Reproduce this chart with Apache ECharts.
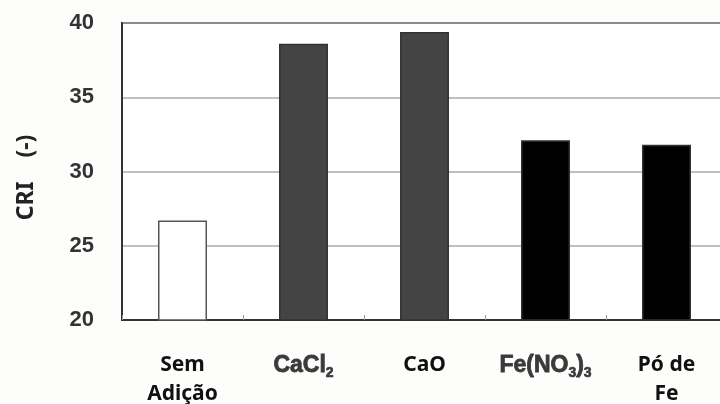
<!DOCTYPE html>
<html><head><meta charset="utf-8">
<script src="https://cdn.jsdelivr.net/npm/echarts@6/dist/echarts.min.js"></script>
<style>html,body{margin:0;padding:0;background:#fdfdfb}#c{width:720px;height:404px}</style>
</head><body><div id="c"></div>
<script>
const categories = ['Sem\nAdição', 'CaCl2', 'CaO', 'Fe(NO3)3', 'Pó de\nFe'];
const cri = [26.7, 38.6, 39.4, 32.1, 31.8];
const yTicks = [20, 25, 30, 35, 40];

const barColors = ['#ffffff', '#444444', '#444444', '#000000', '#000000'];
const labelRich = {
  '0': 'Sem\nAdição',
  '1': '{m|CaCl}{s|2}',
  '2': 'CaO',
  '3': '{m|Fe(NO}{s|3}{m|)}{s|3}',
  '4': 'Pó de\nFe'
};

const chart = echarts.init(document.getElementById('c'));
chart.setOption({
  backgroundColor: '#fdfdfb',
  animation: false,
  grid: { left: 122, right: -7, top: 23, bottom: 84, show: true, backgroundColor: '#ffffff', borderColor: '#333', borderWidth: 2, containLabel: false, outerBoundsMode: 'none' },
  xAxis: {
    type: 'category',
    data: categories,
    axisLine: { show: true, lineStyle: { color: '#333', width: 2 } },
    axisTick: { show: true, inside: true, length: 5, lineStyle: { color: '#999', width: 1 } },
    axisLabel: {
      margin: 31,
      interval: 0,
      color: '#111',
      fontFamily: 'Noto Sans',
      fontWeight: 'bold',
      fontSize: 21,
      lineHeight: 29,
      formatter: (v, i) => labelRich[i],
      rich: {
        m: { fontFamily: 'Liberation Sans', fontWeight: 700, fontSize: 23, color: '#3a3a3a', lineHeight: 29, textBorderColor: '#3a3a3a', textBorderWidth: 0.8 },
        s: { fontFamily: 'Liberation Sans', fontWeight: 700, fontSize: 14, color: '#3a3a3a', lineHeight: 29, verticalAlign: 'bottom', padding: [7, 0, 0, 0], textBorderColor: '#3a3a3a', textBorderWidth: 0.6 }
      }
    }
  },
  yAxis: {
    type: 'value',
    min: yTicks[0], max: yTicks[yTicks.length - 1], interval: 5,
    name: 'CRI    (-)\u00a0\u00a0',
    nameLocation: 'middle',
    nameRotate: 90,
    nameGap: 84,
    nameTextStyle: { fontFamily: 'Noto Sans', fontWeight: 'bold', fontSize: 23, color: '#222' },
    axisLine: { show: true, lineStyle: { color: '#333', width: 2 } },
    axisTick: { show: false },
    axisLabel: { margin: 28, color: '#333', fontFamily: 'Liberation Sans', fontWeight: 'bold', fontSize: 22 },
    splitLine: { show: true, lineStyle: { color: '#aaa', width: 1.5 } }
  },
  series: [{
    type: 'bar',
    barWidth: 49,
    data: cri.map((v, i) => ({ value: v, itemStyle: { color: barColors[i], borderColor: i === 0 ? '#555' : '#333', borderWidth: 1.5 } }))
  }]
});
</script></body></html>
